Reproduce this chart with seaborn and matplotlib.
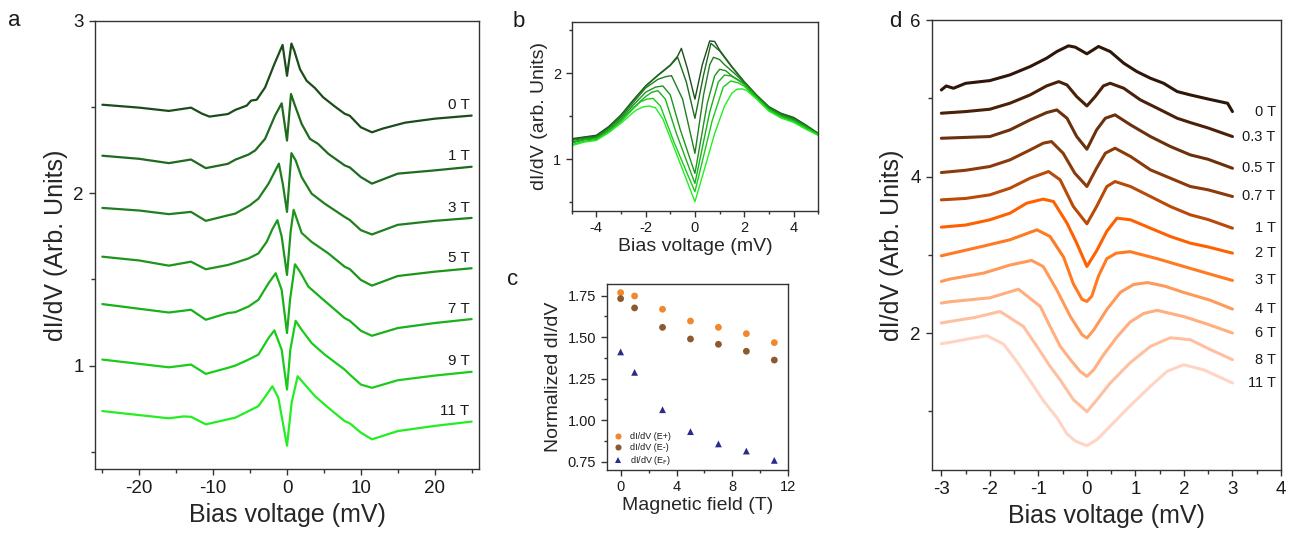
import pandas as pd
import matplotlib.pyplot as plt
import seaborn as sns
from matplotlib.ticker import MultipleLocator, FormatStrFormatter

# ---- panel a: dI/dV vs bias, 0-11 T (offset curves) ----
a_fields = ["0 T", "1 T", "3 T", "5 T", "7 T", "9 T", "11 T"]
a0_x = [-25, -20, -16, -13, -11.5, -10.5, -8, -7, -5.45, -4.86, -4.1, -2.97, -1.71, -0.6, 0, 0.6, 0.99, 1.76, 2.66, 3.78, 4.9, 6.5, 7.8, 8.5, 10, 11.5, 13, 16, 20, 25]
a0_y = [2.514, 2.497, 2.478, 2.497, 2.462, 2.445, 2.46, 2.484, 2.509, 2.538, 2.543, 2.614, 2.75, 2.861, 2.682, 2.869, 2.827, 2.72, 2.653, 2.611, 2.557, 2.503, 2.462, 2.45, 2.383, 2.354, 2.376, 2.41, 2.433, 2.451]
a1_x = [-25, -20, -16, -13, -11, -8, -7, -5.2, -4.3, -2.97, -1.62, -0.72, 0, 0.54, 1.08, 1.98, 3.1, 4.2, 5.6, 7.8, 8.5, 10, 11.5, 15, 20, 25]
a1_y = [2.218, 2.2, 2.175, 2.196, 2.146, 2.171, 2.195, 2.225, 2.249, 2.316, 2.451, 2.522, 2.306, 2.576, 2.509, 2.403, 2.316, 2.287, 2.229, 2.162, 2.15, 2.094, 2.056, 2.114, 2.133, 2.154]
a3_x = [-25, -20, -16, -13, -11, -8, -7, -5.0, -3.87, -2.5, -1.1, -0.55, 0, 0.6, 1.17, 1.98, 3.33, 5.1, 7.8, 8.5, 10, 11.5, 15, 20, 25]
a3_y = [1.915, 1.9, 1.879, 1.892, 1.84, 1.872, 1.882, 1.931, 1.969, 2.056, 2.172, 2.05, 1.892, 2.233, 2.191, 2.094, 1.998, 1.94, 1.863, 1.845, 1.786, 1.761, 1.817, 1.84, 1.857]
a5_x = [-25, -20, -16, -13, -11, -8, -7, -5.2, -3.87, -2.75, -2, -1.3, -0.72, 0, 0.5, 0.9, 1.98, 3.33, 5.6, 7.8, 8.5, 10, 11.5, 15, 20, 25]
a5_y = [1.632, 1.61, 1.58, 1.603, 1.559, 1.584, 1.597, 1.622, 1.651, 1.718, 1.79, 1.844, 1.749, 1.526, 1.78, 1.904, 1.77, 1.718, 1.651, 1.574, 1.56, 1.497, 1.464, 1.52, 1.545, 1.565]
a7_x = [-25, -16, -13, -11, -8, -7, -5.2, -3.87, -2.5, -1.53, -0.72, 0, 0.41, 1.08, 1.76, 2.88, 4.68, 6.5, 7.8, 8.5, 10, 11.5, 15, 20, 25]
a7_y = [1.357, 1.308, 1.324, 1.266, 1.305, 1.31, 1.343, 1.382, 1.478, 1.536, 1.439, 1.189, 1.382, 1.588, 1.545, 1.459, 1.391, 1.324, 1.276, 1.26, 1.202, 1.173, 1.218, 1.247, 1.27]
a9_x = [-25, -16, -13, -11, -8, -7, -5.2, -3.87, -2.5, -1.71, -0.72, 0, 0.45, 1.17, 1.98, 3.33, 5.1, 7.8, 8.5, 10, 11.5, 15, 20, 25]
a9_y = [1.035, 0.99, 1.006, 0.952, 0.987, 1.0, 1.035, 1.064, 1.16, 1.204, 1.092, 0.861, 1.092, 1.26, 1.208, 1.131, 1.064, 0.977, 0.948, 0.89, 0.871, 0.915, 0.942, 0.964]
a11_x = [-25, -16, -14, -13, -11, -8, -7, -5.2, -3.87, -2.75, -1.98, -1.17, 0, 0.63, 1.44, 2.21, 3.78, 5.6, 7.8, 8.5, 10, 11.5, 15, 20, 25]
a11_y = [0.736, 0.694, 0.705, 0.703, 0.659, 0.688, 0.698, 0.736, 0.765, 0.832, 0.88, 0.813, 0.535, 0.785, 0.938, 0.9, 0.823, 0.755, 0.678, 0.665, 0.611, 0.572, 0.62, 0.65, 0.675]

# ---- panel b: zoom on the gap, same fields ----
b0_x = [-5, -4.5, -4, -3.5, -3, -2.5, -2, -1.5, -1, -0.7, -0.55, -0.3, 0, 0.3, 0.6, 0.8, 1, 1.5, 2, 2.5, 3, 3.5, 4, 4.5, 5]
b0_y = [1.24, 1.26, 1.28, 1.38, 1.516, 1.69, 1.853, 1.98, 2.097, 2.2, 2.29, 2.05, 1.70, 2.1, 2.376, 2.37, 2.27, 2.078, 1.903, 1.748, 1.612, 1.535, 1.488, 1.40, 1.302]
b1_x = [-5, -4.5, -4, -3.5, -3, -2.5, -2, -1.5, -1, -0.7, -0.35, 0, 0.35, 0.65, 1, 1.5, 2, 2.5, 3, 3.5, 4, 4.5, 5]
b1_y = [1.23, 1.255, 1.27, 1.37, 1.51, 1.685, 1.85, 1.975, 2.09, 2.186, 1.9, 1.477, 1.98, 2.349, 2.26, 2.07, 1.90, 1.745, 1.61, 1.53, 1.48, 1.395, 1.30]
b3_x = [-5, -4.5, -4, -3.5, -3, -2.5, -2, -1.5, -1.2, -0.95, -0.5, 0, 0.35, 0.6, 0.75, 1.0, 1.2, 1.6, 2, 2.5, 3, 3.5, 4, 4.5, 5]
b3_y = [1.22, 1.245, 1.26, 1.36, 1.49, 1.66, 1.83, 1.93, 1.96, 1.973, 1.70, 1.07, 1.75, 2.1, 2.186, 2.16, 2.10, 2.0, 1.89, 1.74, 1.60, 1.52, 1.47, 1.39, 1.30]
b5_x = [-5, -4.5, -4, -3.5, -3, -2.5, -2, -1.6, -1.3, -1.0, -0.6, 0, 0.5, 0.8, 1.0, 1.25, 1.5, 2, 2.5, 3, 3.5, 4, 4.5, 5]
b5_y = [1.20, 1.235, 1.25, 1.34, 1.47, 1.63, 1.78, 1.84, 1.853, 1.75, 1.35, 0.837, 1.65, 1.97, 2.047, 2.03, 1.97, 1.88, 1.73, 1.59, 1.51, 1.46, 1.38, 1.29]
b7_x = [-5, -4.5, -4, -3.5, -3, -2.5, -2, -1.75, -1.5, -1.2, -0.75, 0, 0.6, 0.95, 1.2, 1.45, 1.7, 2, 2.5, 3, 3.5, 4, 4.5, 5]
b7_y = [1.19, 1.225, 1.24, 1.33, 1.45, 1.60, 1.73, 1.78, 1.798, 1.70, 1.30, 0.721, 1.55, 1.90, 1.98, 1.97, 1.93, 1.87, 1.72, 1.58, 1.50, 1.45, 1.37, 1.29]
b9_x = [-5, -4.5, -4, -3.5, -3, -2.5, -2.2, -1.95, -1.7, -1.4, -0.85, 0, 0.7, 1.15, 1.45, 1.75, 2, 2.5, 3, 3.5, 4, 4.5, 5]
b9_y = [1.17, 1.21, 1.23, 1.32, 1.44, 1.59, 1.67, 1.70, 1.709, 1.62, 1.20, 0.624, 1.45, 1.84, 1.911, 1.89, 1.85, 1.71, 1.57, 1.49, 1.44, 1.36, 1.28]
b11_x = [-5, -4.5, -4, -3.5, -3, -2.4, -2.1, -1.85, -1.6, -1.3, -1, -0.5, 0, 0.4, 0.8, 1.2, 1.5, 1.7, 1.9, 2.1, 2.5, 3, 3.5, 4, 4.5, 5]
b11_y = [1.16, 1.2, 1.22, 1.31, 1.42, 1.57, 1.61, 1.62, 1.60, 1.47, 1.25, 0.88, 0.508, 0.9, 1.30, 1.62, 1.77, 1.814, 1.82, 1.80, 1.70, 1.56, 1.48, 1.43, 1.35, 1.28]

# ---- panel c: normalized dI/dV vs field ----
c_field = [0, 1, 3, 5, 7, 9, 11]
c_eplus = [1.768, 1.748, 1.668, 1.597, 1.559, 1.521, 1.467]
c_eminus = [1.732, 1.676, 1.559, 1.489, 1.457, 1.415, 1.362]
c_ef = [1.411, 1.288, 1.063, 0.931, 0.857, 0.814, 0.758]
c_names = ["dI/dV (E+)", "dI/dV (E-)", r"dI/dV (E$_\mathrm{F}$)"]

# ---- panel d: second sample, 0-11 T ----
d_fields = ["0 T", "0.3 T", "0.5 T", "0.7 T", "1 T", "2 T", "3 T", "4 T", "6 T", "8 T", "11 T"]
d0_x = [-3, -2.9, -2.75, -2.5, -2, -1.585, -1.17, -0.83, -0.62, -0.38, -0.24, 0, 0.24, 0.48, 0.76, 1.03, 1.31, 1.58, 1.86, 2.13, 2.5, 2.9, 3]
d0_y = [5.106, 5.157, 5.128, 5.191, 5.226, 5.299, 5.405, 5.512, 5.597, 5.67, 5.653, 5.568, 5.662, 5.597, 5.448, 5.341, 5.256, 5.192, 5.086, 5.043, 4.99, 4.936, 4.83]
d03_x = [-3, -2.5, -2, -1.585, -1.17, -0.83, -0.58, -0.41, -0.21, 0, 0.17, 0.34, 0.48, 0.76, 1.1, 1.45, 1.86, 2.13, 2.5, 3]
d03_y = [4.809, 4.83, 4.86, 4.937, 5.043, 5.158, 5.213, 5.17, 5.021, 4.902, 5.021, 5.158, 5.192, 5.128, 4.98, 4.873, 4.745, 4.69, 4.62, 4.511]
d05_x = [-3, -2.5, -2, -1.585, -1.17, -0.83, -0.62, -0.41, -0.21, 0, 0.2, 0.38, 0.58, 0.9, 1.31, 1.72, 2.13, 2.5, 3]
d05_y = [4.489, 4.5, 4.511, 4.596, 4.724, 4.817, 4.851, 4.745, 4.511, 4.349, 4.596, 4.745, 4.788, 4.66, 4.511, 4.384, 4.277, 4.22, 4.106]
d07_x = [-3, -2.5, -2, -1.585, -1.17, -0.9, -0.73, -0.49, -0.25, 0, 0.2, 0.38, 0.58, 0.9, 1.31, 1.72, 2.13, 2.5, 3]
d07_y = [4.051, 4.08, 4.128, 4.213, 4.34, 4.426, 4.447, 4.298, 4.043, 3.873, 4.107, 4.298, 4.362, 4.256, 4.085, 3.979, 3.873, 3.83, 3.745]
d1_x = [-3, -2.5, -2, -1.585, -1.17, -0.79, -0.55, -0.28, 0, 0.2, 0.41, 0.58, 0.9, 1.31, 1.72, 2.13, 2.5, 3]
d1_y = [3.702, 3.72, 3.766, 3.851, 3.979, 4.064, 3.957, 3.617, 3.396, 3.617, 3.872, 3.936, 3.872, 3.745, 3.617, 3.511, 3.45, 3.34]
d2_x = [-3, -2.5, -2, -1.585, -1.24, -0.9, -0.69, -0.41, -0.21, 0, 0.2, 0.41, 0.62, 0.9, 1.31, 1.72, 2.13, 2.5, 3]
d2_y = [3.353, 3.38, 3.447, 3.532, 3.66, 3.711, 3.681, 3.404, 3.149, 2.851, 3.05, 3.3, 3.468, 3.447, 3.34, 3.234, 3.149, 3.1, 3.021]
d3_x = [-3, -2.82, -2.14, -1.585, -1.03, -0.76, -0.48, -0.28, -0.1, 0, 0.1, 0.24, 0.41, 0.6, 0.89, 1.45, 2.0, 2.5, 3]
d3_y = [2.987, 3.013, 3.11, 3.192, 3.319, 3.234, 2.97, 2.63, 2.43, 2.404, 2.47, 2.73, 2.95, 3.02, 3.04, 2.95, 2.85, 2.76, 2.672]
d4_x = [-3, -2.82, -2.13, -1.58, -1.14, -0.9, -0.62, -0.34, -0.1, 0, 0.14, 0.41, 0.69, 0.96, 1.25, 1.6, 1.99, 2.54, 3]
d4_y = [2.66, 2.69, 2.766, 2.87, 2.928, 2.85, 2.55, 2.21, 1.978, 1.936, 2.04, 2.3, 2.52, 2.62, 2.645, 2.6, 2.52, 2.42, 2.306]
d6_x = [-3, -2.82, -2, -1.41, -0.96, -0.76, -0.55, -0.34, -0.14, 0, 0.14, 0.34, 0.62, 0.89, 1.17, 1.45, 2, 2.5, 3]
d6_y = [2.383, 2.40, 2.45, 2.56, 2.34, 2.085, 1.83, 1.66, 1.51, 1.446, 1.53, 1.72, 1.95, 2.14, 2.25, 2.29, 2.21, 2.11, 2.0]
d8_x = [-3, -2.82, -2.3, -1.79, -1.31, -1.03, -0.76, -0.55, -0.28, 0, 0.21, 0.48, 0.89, 1.31, 1.72, 2.13, 2.54, 3]
d8_y = [2.128, 2.148, 2.2, 2.276, 2.085, 1.83, 1.575, 1.40, 1.15, 0.995, 1.15, 1.36, 1.62, 1.83, 1.94, 1.915, 1.79, 1.66]
d11_x = [-3, -2.82, -2.4, -2.06, -1.72, -1.45, -1.17, -0.89, -0.62, -0.41, -0.24, 0, 0.21, 0.48, 0.89, 1.31, 1.65, 1.99, 2.41, 3]
d11_y = [1.864, 1.881, 1.93, 1.966, 1.86, 1.64, 1.39, 1.13, 0.92, 0.71, 0.62, 0.56, 0.64, 0.81, 1.07, 1.32, 1.51, 1.595, 1.53, 1.362]

greens = ["#1b4d1b", "#1f6a1f", "#1f7f1f", "#1d951d", "#1ab01a", "#1acc1a", "#22ee22"]
browns = ["#2e1608", "#4a2008", "#6b300c", "#8b3a0a", "#b84a0a", "#ff6000",
          "#ff7a20", "#ff9a5a", "#ffaf80", "#ffc0a0", "#ffd4c4"]
c_colors = ["#f0892e", "#8c5a2e", "#2b2b8c"]


def long_df(fields, xs, ys):
    rows = []
    for f, x, y in zip(fields, xs, ys):
        for xi, yi in zip(x, y):
            rows.append((f, xi, yi))
    return pd.DataFrame(rows, columns=["field", "bias", "didv"])


a_xs = [a0_x, a1_x, a3_x, a5_x, a7_x, a9_x, a11_x]
a_ys = [a0_y, a1_y, a3_y, a5_y, a7_y, a9_y, a11_y]
d_xs = [d0_x, d03_x, d05_x, d07_x, d1_x, d2_x, d3_x, d4_x, d6_x, d8_x, d11_x]
d_ys = [d0_y, d03_y, d05_y, d07_y, d1_y, d2_y, d3_y, d4_y, d6_y, d8_y, d11_y]

df_a = long_df(a_fields, a_xs, a_ys)
df_b = long_df(a_fields, [b0_x, b1_x, b3_x, b5_x, b7_x, b9_x, b11_x],
               [b0_y, b1_y, b3_y, b5_y, b7_y, b9_y, b11_y])
df_d = long_df(d_fields, d_xs, d_ys)
df_c = pd.DataFrame({
    "field": c_field * 3,
    "val": c_eplus + c_eminus + c_ef,
    "series": [c_names[0]] * 7 + [c_names[1]] * 7 + [c_names[2]] * 7,
})

sns.set_theme(style="ticks")
plt.rcParams["font.family"] = ["Liberation Sans", "DejaVu Sans"]
plt.rcParams["axes.unicode_minus"] = False
plt.rcParams["axes.edgecolor"] = "#333333"
plt.rcParams["axes.linewidth"] = 1.0
plt.rcParams["xtick.color"] = "#333333"
plt.rcParams["ytick.color"] = "#333333"
plt.rcParams["text.color"] = "#1a1a1a"

fig = plt.figure(figsize=(13.01, 5.38), dpi=100)
ax_a = fig.add_axes([0.0730, 0.1283, 0.2952, 0.8327])
ax_b = fig.add_axes([0.4394, 0.6078, 0.1895, 0.3519])
ax_c = fig.add_axes([0.4663, 0.1264, 0.1396, 0.3457])
ax_d = fig.add_axes([0.7161, 0.1264, 0.2685, 0.8364])


def style_ticks(ax, lab, major=4.5, minor=3):
    ax.tick_params(which="major", direction="out", length=major, width=1, labelsize=lab,
                   labelcolor="#1a1a1a", top=False, right=False)
    ax.tick_params(which="minor", direction="out", length=minor, width=1, top=False, right=False)


# panel a
sns.lineplot(data=df_a, x="bias", y="didv", hue="field", palette=greens, sort=False,
             estimator=None, legend=False, linewidth=1.6, ax=ax_a)
for f, y in zip(a_fields, a_ys):
    ax_a.text(24.7, y[-1] + 0.06, f, ha="right", va="center", fontsize=11)
ax_a.set_xlim(-26, 26)
ax_a.set_ylim(0.4, 3.0)
ax_a.xaxis.set_major_locator(MultipleLocator(10))
ax_a.xaxis.set_minor_locator(MultipleLocator(5))
ax_a.yaxis.set_major_locator(MultipleLocator(1))
ax_a.yaxis.set_minor_locator(MultipleLocator(0.5))
style_ticks(ax_a, 13.5)
ax_a.set_xlabel("Bias voltage (mV)", fontsize=18)
ax_a.set_ylabel("dI/dV (Arb. Units)", fontsize=18)

# panel b
sns.lineplot(data=df_b, x="bias", y="didv", hue="field", palette=greens, sort=False,
             estimator=None, legend=False, linewidth=1.0, ax=ax_b)
ax_b.set_xlim(-5, 5)
ax_b.set_ylim(0.4, 2.6)
ax_b.xaxis.set_major_locator(MultipleLocator(2))
ax_b.xaxis.set_minor_locator(MultipleLocator(1))
ax_b.yaxis.set_major_locator(MultipleLocator(1))
ax_b.yaxis.set_minor_locator(MultipleLocator(0.5))
style_ticks(ax_b, 10.5, 4, 2.5)
ax_b.set_xlabel("Bias voltage (mV)", fontsize=14, labelpad=2)
ax_b.set_ylabel("dI/dV (arb. Units)", fontsize=14, labelpad=4)

# panel c
sns.scatterplot(data=df_c, x="field", y="val", hue="series", style="series",
                markers={c_names[0]: "o", c_names[1]: "o", c_names[2]: "^"},
                palette=c_colors, s=24, linewidth=0, ax=ax_c)
h, l = ax_c.get_legend_handles_labels()
ax_c.legend(h, l, loc="lower left", bbox_to_anchor=(0.0, 0.0), frameon=False, fontsize=6.5,
            handletextpad=0.3, labelspacing=0.25, borderaxespad=0.2, borderpad=0.1,
            markerscale=0.9)
ax_c.set_xlim(-1, 12)
ax_c.set_ylim(0.70, 1.82)
ax_c.xaxis.set_major_locator(MultipleLocator(4))
ax_c.xaxis.set_minor_locator(MultipleLocator(2))
ax_c.yaxis.set_major_locator(MultipleLocator(0.25))
ax_c.yaxis.set_minor_locator(MultipleLocator(0.125))
ax_c.yaxis.set_major_formatter(FormatStrFormatter("%.2f"))
style_ticks(ax_c, 10.5, 4, 2.5)
ax_c.set_xlabel("Magnetic field (T)", fontsize=14, labelpad=2)
ax_c.set_ylabel("Normalized dI/dV", fontsize=14, labelpad=4)

# panel d
sns.lineplot(data=df_d, x="bias", y="didv", hue="field", palette=browns, sort=False,
             estimator=None, legend=False, linewidth=2.2, ax=ax_d)
for f, y in zip(d_fields, d_ys):
    ax_d.text(3.89, y[-1], f, ha="right", va="center", fontsize=10.5)
ax_d.set_xlim(-3.2, 4)
ax_d.set_ylim(0.25, 6)
ax_d.xaxis.set_major_locator(MultipleLocator(1))
ax_d.xaxis.set_minor_locator(MultipleLocator(0.5))
ax_d.yaxis.set_major_locator(MultipleLocator(2))
ax_d.yaxis.set_minor_locator(MultipleLocator(1))
style_ticks(ax_d, 13.5)
ax_d.set_xlabel("Bias voltage (mV)", fontsize=18)
ax_d.set_ylabel("dI/dV (Arb. Units)", fontsize=18)

for ax in (ax_a, ax_b, ax_c, ax_d):
    for s in ax.spines.values():
        s.set_visible(True)

# panel letters
fig.text(0.0061, 0.9517, "a", fontsize=16, va="baseline")
fig.text(0.3943, 0.9500, "b", fontsize=16, va="baseline")
fig.text(0.3897, 0.4703, "c", fontsize=16, va="baseline")
fig.text(0.6833, 0.9498, "d", fontsize=16, va="baseline")

fig.savefig("out.png", dpi=100)
